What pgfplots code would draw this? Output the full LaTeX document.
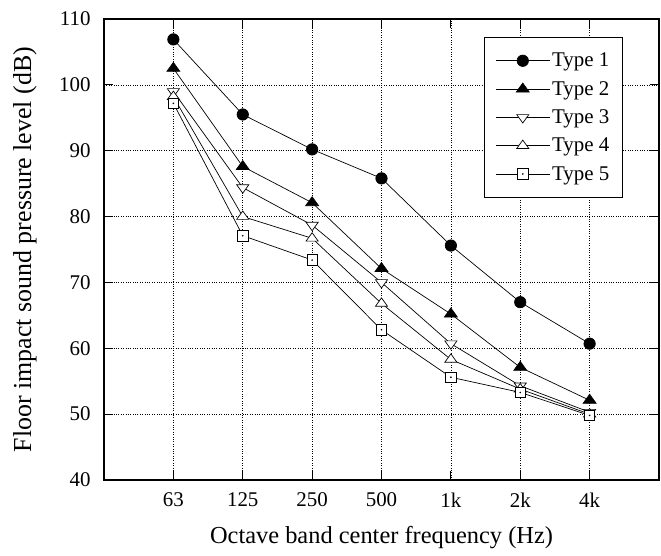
\documentclass[border=0pt]{standalone}
\usepackage{pgfplots}
\pgfplotsset{compat=1.18}
\usepackage{fontspec}
\setmainfont{Liberation Serif}
\pgfdeclareplotmark{sqdot}{%
  \pgfpathrectangle{\pgfpoint{-\pgfplotmarksize}{-\pgfplotmarksize}}{\pgfpoint{2\pgfplotmarksize}{2\pgfplotmarksize}}%
  \pgfsetfillcolor{white}\pgfusepathqfillstroke
  \pgfpathcircle{\pgfpointorigin}{0.9pt}\pgfsetfillcolor{black}\pgfusepathqfill}
\begin{document}
\begin{tikzpicture}
\begin{axis}[
  width=555bp, height=461bp, scale only axis,
  xmin=-1, xmax=7, ymin=40, ymax=110,
  xtick={0,1,2,3,4,5,6},
  xticklabels={63,125,250,500,1k,2k,4k},
  ytick={40,50,...,110},
  tick align=inside,
  major tick length=9bp,
  tick style={black, line width=1.2pt},
  grid=major,
  grid style={black, dotted, line width=0.6pt},
  axis line style={line width=1.3pt},
  /pgf/number format/assume math mode=true,
  ticklabel style={font=\fontsize{21}{25}\selectfont},
  xticklabel style={yshift=-9bp},
  yticklabel style={xshift=-10bp},
  xlabel={Octave band center frequency (Hz)},
  ylabel={Floor impact sound pressure level (dB)},
  xlabel style={font=\fontsize{24.5}{28}\selectfont, at={(axis description cs:0.5,-0.1258)}, anchor=center},
  ylabel style={font=\fontsize{26}{30}\selectfont, at={(axis description cs:-0.1423,0.5)}, anchor=center},
  every axis plot/.append style={black, line width=0.7pt},
  legend style={at={(0.935,0.962)}, anchor=north east, draw=black, line width=1.2pt,
    font=\fontsize{21}{25}\selectfont, row sep=9bp, inner xsep=11bp, inner ysep=14bp, fill=white},
  legend cell align=left,
  legend image code/.code={\draw[line width=0.7pt, mark repeat=2, mark phase=2] plot coordinates {(0bp,0bp) (27bp,0bp) (54bp,0bp)};},
]
\addplot[mark=*, mark size=5.7bp, mark options={fill=black}] coordinates {(0,106.9) (1,95.5) (2,90.2) (3,85.8) (4,75.6) (5,67.0) (6,60.7)};
\addlegendentry{Type 1}
\addplot[mark=triangle*, mark size=7.5bp, mark options={fill=black, yscale=0.8}] coordinates {(0,102.5) (1,87.6) (2,82.1) (3,72.1) (4,65.2) (5,57.1) (6,52.1)};
\addlegendentry{Type 2}
\addplot[mark=triangle*, mark size=7bp, mark options={fill=white, rotate=180, yscale=0.8, line width=0.7pt}] coordinates {(0,99.0) (1,84.4) (2,78.7) (3,70.0) (4,60.7) (5,54.3) (6,50.3)};
\addlegendentry{Type 3}
\addplot[mark=triangle*, mark size=7bp, mark options={fill=white, yscale=0.8, line width=0.7pt}] coordinates {(0,98.2) (1,80.0) (2,76.7) (3,66.8) (4,58.3) (5,53.8) (6,50.0)};
\addlegendentry{Type 4}
\addplot[mark=sqdot, mark size=5.2bp, mark options={line width=0.7pt}] coordinates {(0,97.2) (1,77.1) (2,73.4) (3,62.8) (4,55.6) (5,53.3) (6,49.8)};
\addlegendentry{Type 5}
\end{axis}
\pgfresetboundingbox
\path ([xshift=-104bp,yshift=-76bp]current axis.south west) rectangle ([xshift=2bp,yshift=19bp]current axis.north east);
\end{tikzpicture}
\end{document}
